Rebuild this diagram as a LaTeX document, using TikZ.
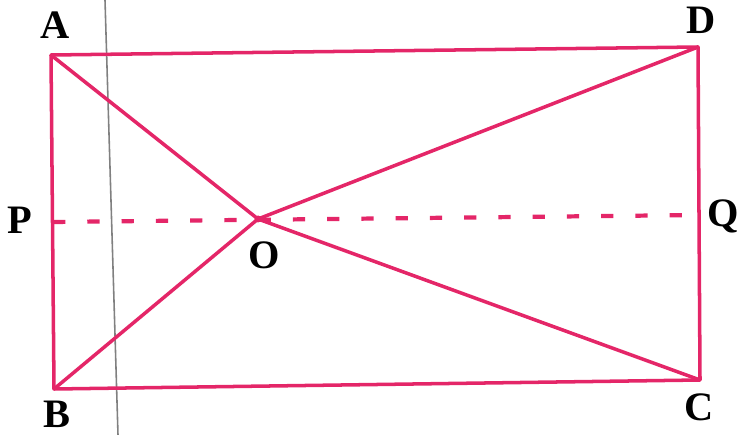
\documentclass[tikz,border=0pt]{standalone}
\usepackage{fontspec}
\setmainfont{Liberation Serif}
\definecolor{rosso}{RGB}{228,38,104}
\tikzset{
  lato/.style={draw=rosso,line width=2pt},
  tratteggio/.style={draw=rosso,line width=2.4pt,dash pattern=on 7pt off 12.5pt},
  lettera/.style={font=\fontsize{23}{26}\selectfont\bfseries,inner sep=0pt}
}
\begin{document}
\begin{tikzpicture}[x=0.02cm,y=-0.02cm]
\useasboundingbox (0,0) rectangle (746,435);
% vertici e punti
\coordinate (A) at (51,55);
\coordinate (D) at (698,47);
\coordinate (C) at (700,380);
\coordinate (B) at (54,389);
\coordinate (P) at (53,222);
\coordinate (Q) at (700,215);
\coordinate (O) at (258,219);
% linea grigia della pagina
\coordinate (g1) at (105,0);
\coordinate (g2) at (118,435);
\draw[gray,line width=0.9pt] (g1) -- (g2);
% rettangolo e diagonali
\draw[lato,line join=round] (A) -- (D) -- (C) -- (B) -- cycle;
\draw[lato] (A) -- (O) -- (C);
\draw[lato] (B) -- (O) -- (D);
\draw[tratteggio] (P) -- (Q);
\fill[rosso] (O) circle (3.5);
% etichette
\node[lettera] (lA) at (55,25) {A};
\node[lettera] (lD) at (701,20) {D};
\node[lettera] (lC) at (699,407) {C};
\node[lettera] (lB) at (57,414) {B};
\node[lettera] (lP) at (20,220) {P};
\node[lettera] (lQ) at (723,216) {Q};
\node[lettera] (lO) at (264,255) {O};
\end{tikzpicture}
\end{document}
